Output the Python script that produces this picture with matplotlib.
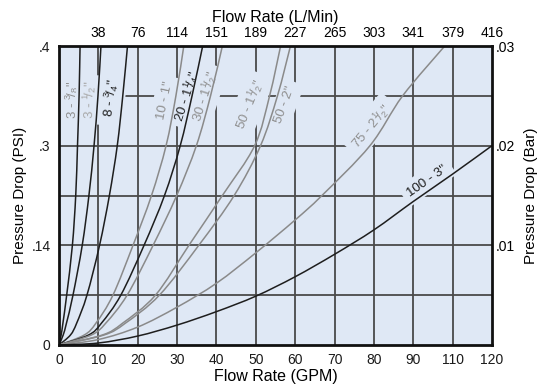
import numpy as np
import matplotlib.pyplot as plt
from matplotlib.path import Path
from matplotlib.patches import PathPatch

plt.rcParams['font.family'] = ['Liberation Sans', 'DejaVu Sans']
plt.rcParams['mathtext.fontset'] = 'custom'
plt.rcParams['mathtext.rm'] = 'Liberation Sans'
plt.rcParams['mathtext.it'] = 'Liberation Sans:italic'

# Flow (GPM) vs pressure drop (Bar)
drop_levels = [0, 0.001, 0.0022, 0.005, 0.010, 0.015, 0.020, 0.025, 0.030]
c1_x = [0, 0.54, 1.0, 1.95, 3.4, 4.25, 4.7, 5.1, 5.35]
c2_x = [0, 1.06, 1.9, 3.55, 5.9, 7.6, 8.9, 9.9, 10.66]
c3_x = [0, 2.9, 4.5, 7.1, 10.3, 12.8, 14.8, 16.2, 17.4]
c4_x = [0, 6.4, 9.4, 13.7, 18.8, 23.5, 27.2, 29.7, 31.7]
c5_x = [0, 7.5, 10.8, 15.7, 21.6, 26.8, 30.8, 33.8, 36.5]
c6_x = [0, 8.2, 11.9, 17.3, 23.9, 29.9, 34.9, 38.5, 41.5]
c7_x = [0, 11.0, 16.2, 24.5, 33.0, 41.5, 49.7, 53.5, 56.3]
c8_x = [0, 11.4, 16.9, 25.5, 35.5, 44.5, 51.2, 55.5, 58.8]
c9_x = [0, 10, 20, 30, 40, 50, 60, 66.8, 79, 87.3, 98]
c9_y = [0, 0.00055, 0.0018, 0.0038, 0.0062, 0.00925, 0.01255, 0.015, 0.020, 0.025, 0.030]
c10_x = [0, 10, 20, 30, 40, 50, 60, 70, 80, 90, 100, 110]
c10_y = [0, 0.0002, 0.0009, 0.0020, 0.00335, 0.0049, 0.00685, 0.0091, 0.01155, 0.0144, 0.01715, 0.020]

curve_names = ['3 - $^{3}\\!/_{8}$"', '3 - $^{1}\\!/_{2}$"', '8 - $^{3}\\!/_{4}$"',
               '10 - 1"', '20 - 1$^{1}\\!/_{4}$"', '30 - 1$^{1}\\!/_{2}$"',
               '50 - 1$^{1}\\!/_{2}$"', '50 - 2"', '75 - 2$^{1}\\!/_{2}$"', '100 - 3"']

bottom_ticks = [0, 10, 20, 30, 40, 50, 60, 70, 80, 90, 100, 110]
bottom_labels = ['0', '10', '20', '30', '40', '50', '60', '70', '80', '90', '110', '120']
top_ticks = [10, 20, 30, 40, 50, 60, 70, 80, 90, 100, 110]
top_labels = ['38', '76', '114', '151', '189', '227', '265', '303', '341', '379', '416']
left_ticks = [0, 0.01, 0.02, 0.03]
left_labels = ['0', '.14', '.3', '.4']
right_ticks = [0.01, 0.02, 0.03]
right_labels = ['.01', '.02', '.03']

curves = [(c1_x, drop_levels), (c2_x, drop_levels), (c3_x, drop_levels), (c4_x, drop_levels),
          (c5_x, drop_levels), (c6_x, drop_levels), (c7_x, drop_levels), (c8_x, drop_levels),
          (c9_x, c9_y), (c10_x, c10_y)]
line_colors = ['#1e1e1e', '#1e1e1e', '#1e1e1e', '#8a8a8a', '#1e1e1e',
               '#8a8a8a', '#8a8a8a', '#8a8a8a', '#8a8a8a', '#1e1e1e']
label_colors = ['#8f8f8f', '#a9a9a9', '#1e1e1e', '#8f8f8f', '#1e1e1e',
                '#8f8f8f', '#8f8f8f', '#8f8f8f', '#8f8f8f', '#1e1e1e']
# label placement (data coords) and rotation
label_pos = [(3.3, 0.0246), (7.9, 0.0246), (13.2, 0.0248), (26.9, 0.0245), (32.5, 0.0250),
             (37.1, 0.0250), (48.5, 0.0242), (57.4, 0.0241), (79.3, 0.0220), (93.5, 0.01645)]
label_rot = [90, 89, 83, 78, 72, 72, 68, 70, 50, 35]

bg = '#dfe8f5'


def smooth_curve(xs, ys):
    # Catmull-Rom through the read points, drawn as cubic Bezier segments
    p = np.column_stack([xs, ys]).astype(float)
    n = len(p)
    verts = [p[0]]
    codes = [Path.MOVETO]
    for i in range(n - 1):
        p0 = p[i - 1] if i > 0 else p[i]
        p1, p2 = p[i], p[i + 1]
        p3 = p[i + 2] if i + 2 < n else p[i + 1]
        verts += [p1 + (p2 - p0) / 6, p2 - (p3 - p1) / 6, p2]
        codes += [Path.CURVE4] * 3
    return Path(verts, codes)


fig = plt.figure(figsize=(5.43, 3.85), dpi=100)
ax = fig.add_axes([59 / 543, 40 / 385, 433 / 543, 299 / 385])
ax.set_facecolor(bg)
ax.set_xlim(0, 110)
ax.set_ylim(0, 0.03)

for gx in range(10, 110, 10):
    ax.axvline(gx, color='#3c3c3c', lw=1.2, zorder=1)
for gy in [0.005, 0.01, 0.015, 0.02, 0.025]:
    ax.axhline(gy, color='#4a4a4a', lw=1.3, zorder=1)

for (xs, ys), col in zip(curves, line_colors):
    ax.add_patch(PathPatch(smooth_curve(xs, ys), facecolor='none', edgecolor=col,
                           lw=1.1, zorder=4, clip_on=True))

for name, (lx, ly), rot, col in zip(curve_names, label_pos, label_rot, label_colors):
    ax.text(lx, ly, name, rotation=rot, rotation_mode='anchor', ha='center', va='center',
            fontsize=9.5, color=col, zorder=3,
            bbox=dict(facecolor=bg, edgecolor='none', pad=4))

for s in ax.spines.values():
    s.set_linewidth(2)
    s.set_color('#111111')
    s.set_zorder(5)

ax.set_xticks(bottom_ticks, bottom_labels)
ax.set_yticks(left_ticks, left_labels)
ax.tick_params(length=0, labelsize=10, pad=6, colors='#1a1a1a')
ax.set_xlabel('Flow Rate (GPM)', fontsize=11.5, labelpad=1)
ax.set_ylabel('Pressure Drop (PSI)', fontsize=11, labelpad=3)

top = ax.secondary_xaxis('top')
top.set_xticks(top_ticks, top_labels)
top.tick_params(length=0, labelsize=10, pad=4)
top.set_xlabel('Flow Rate (L/Min)', fontsize=11.5, labelpad=3)
for s in top.spines.values():
    s.set_visible(False)

right = ax.secondary_yaxis('right')
right.set_yticks(right_ticks, right_labels)
right.tick_params(length=0, labelsize=10, pad=3)
right.set_ylabel('Pressure Drop (Bar)', fontsize=11, labelpad=6)
for s in right.spines.values():
    s.set_visible(False)

fig.savefig('out.png', dpi=100)
